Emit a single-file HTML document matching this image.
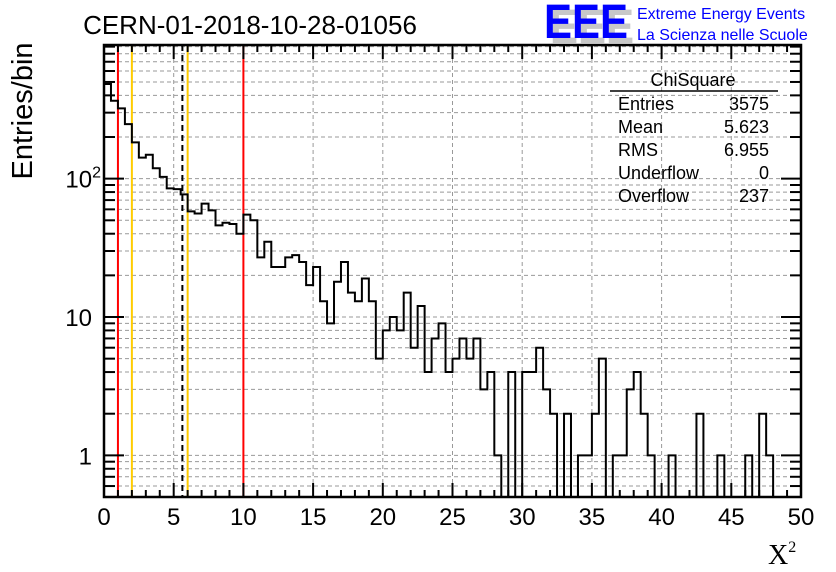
<!DOCTYPE html>
<html><head><meta charset="utf-8">
<style>
html,body{margin:0;padding:0;background:#fff;}
svg{display:block;font-family:"Liberation Sans",Arial,sans-serif;}
</style></head>
<body>
<svg id="chart" width="836" height="572" viewBox="0 0 836 572">
  <g id="grid"></g>
  <g id="vlines"></g>
  <g id="hist"></g>
  <g id="axes"></g>
  <text x="250" y="34" font-size="26" text-anchor="middle">CERN-01-2018-10-28-01056</text>
  <g>
    <text x="550" y="43" font-size="48" font-weight="bold" fill="#c8c8c8" textLength="84" lengthAdjust="spacingAndGlyphs">EEE</text>
    <text x="544" y="38" font-size="48" font-weight="bold" fill="#0000ff" textLength="84" lengthAdjust="spacingAndGlyphs">EEE</text>
    <text x="637" y="19" font-size="16" fill="#0000ff">Extreme Energy Events</text>
    <text x="637" y="40" font-size="16" fill="#0000ff">La Scienza nelle Scuole</text>
  </g>
  <g font-size="18">
    <text x="693" y="86" text-anchor="middle">ChiSquare</text>
    <line x1="610" y1="91" x2="778" y2="91" stroke="#000" stroke-width="1.5"/>
    <text x="618" y="110">Entries</text>
    <text x="769" y="110" text-anchor="end">3575</text>
    <text x="618" y="133">Mean</text>
    <text x="769" y="133" text-anchor="end">5.623</text>
    <text x="618" y="156">RMS</text>
    <text x="769" y="156" text-anchor="end">6.955</text>
    <text x="618" y="179">Underflow</text>
    <text x="769" y="179" text-anchor="end">0</text>
    <text x="618" y="202">Overflow</text>
    <text x="769" y="202" text-anchor="end">237</text>
  </g>
  <text transform="translate(32,111) rotate(-90)" font-size="29" text-anchor="middle">Entries/bin</text>
  <text x="768" y="564" font-size="28" font-family="Liberation Serif,serif">X<tspan font-size="16" dy="-12">2</tspan></text>
</svg>
<script>
const counts = [483,366,322,248,183,142,149,119,103,85,84,77,58,56,66,59,46,48,47,40,
55,50,27,35,23,23,27,28,25,17,23,13,9,18,25,15,13,19,13,5,
8,10,8,15,6,12,4,7,9,4,5,7,5,7,3,4,1,0,4,0,
4,4,6,3,2,0,2,0,1,1,2,5,0,1,1,3,4,2,1,0,
0,1,0,0,0,2,0,0,1,0,0,0,1,0,2,1,0,0,0,0];
const binWidth = 0.5;
const xTickLabels = ["0","5","10","15","20","25","30","35","40","45","50"];
const yTickValues = [1,10,100];
const yTickLabels = ["1","10","10²"];
const refLinesX = [1,2,5.623,6,10];
const refColors = ["#ff0000","#ffcc00","#000","#ffcc00","#ff0000"];
const refNames = ["red-line-1","yellow-line-2","mean-line","yellow-line-6","red-line-10"];

const L=104,R=801,T=45,B=497, XMIN=0,XMAX=50, YMIN=0.5, YMAX=925;
const xs = v => L + (v-XMIN)/(XMAX-XMIN)*(R-L);
const ys = v => B - (Math.log10(v)-Math.log10(YMIN))/(Math.log10(YMAX)-Math.log10(YMIN))*(B-T);
const NS="http://www.w3.org/2000/svg";
function mk(tag, attrs, parent){const e=document.createElementNS(NS,tag);for(const k in attrs)e.setAttribute(k,attrs[k]);parent.appendChild(e);return e;}

const grid=document.getElementById('grid');
for(let v=5; v<50; v+=5){
  const g=mk('line',{x1:xs(v),x2:xs(v),y1:T,y2:B,stroke:'#999','stroke-width':1,'stroke-dasharray':'4,3'},grid);
  
  
}
for(let d=-1; d<=2; d++){
  for(let m=1;m<=9;m++){
    const v=m*Math.pow(10,d);
    if(v<=YMIN||v>=YMAX) continue;
    const y=ys(v);
    const g=mk('line',{x1:L,x2:R,y1:y,y2:y,stroke:'#999','stroke-width':1,'stroke-dasharray':'4,3'},grid);
    
    
  }
}

const vl=document.getElementById('vlines');
refLinesX.forEach((v,i)=>{
  const attrs={x1:xs(v),x2:xs(v),y1:T,y2:B,stroke:refColors[i],'stroke-width':2};
  if(i===2) attrs['stroke-dasharray']='6,4';
  const l=mk('line',attrs,vl);
  
  
});

const hist=document.getElementById('hist');
let d='';
counts.forEach((c,i)=>{
  const x0=xs(i*binWidth), x1=xs((i+1)*binWidth);
  const y = c>0 ? Math.max(T, ys(c)) : B;
  if(i===0) d+='M'+x0+','+y; else d+='L'+x0+','+y;
  d+='L'+x1+','+y;
});
const p=mk('path',{d:d,fill:'none',stroke:'#000','stroke-width':2},hist);



const ax=document.getElementById('axes');
mk('rect',{x:L,y:T,width:R-L,height:B-T,fill:'none',stroke:'#000','stroke-width':2.5},ax);
for(let v=0; v<=50; v+=1){
  const len = v%5===0 ? 14 : 7;
  mk('line',{x1:xs(v),x2:xs(v),y1:B,y2:B-len,stroke:'#000','stroke-width':2},ax);
  mk('line',{x1:xs(v),x2:xs(v),y1:T,y2:T+len,stroke:'#000','stroke-width':2},ax);
}
xTickLabels.forEach((lab,i)=>{
  const t=mk('text',{x:xs(i*5),y:525,'font-size':24,'text-anchor':'middle'},ax);
  t.textContent=lab;
  
  
});
for(let d2=-1; d2<=2; d2++){
  for(let m=1;m<=9;m++){
    const v=m*Math.pow(10,d2);
    if(v<YMIN||v>YMAX) continue;
    const y=ys(v), len = m===1?20:11;
    mk('line',{x1:L,x2:L+len,y1:y,y2:y,stroke:'#000','stroke-width':2},ax);
    mk('line',{x1:R,x2:R-len,y1:y,y2:y,stroke:'#000','stroke-width':2},ax);
  }
}
yTickValues.forEach((v,i)=>{
  const t=mk('text',{x:92,y:ys(v)+9,'font-size':24,'text-anchor':'end'},ax);
  if(yTickLabels[i].endsWith('²')){
    t.textContent='10';
    const s=mk('tspan',{'font-size':16,dy:-10},t); s.textContent='2';
    t.setAttribute('x',101);
  } else t.textContent=yTickLabels[i];
  
  
});
</script>
</body></html>
